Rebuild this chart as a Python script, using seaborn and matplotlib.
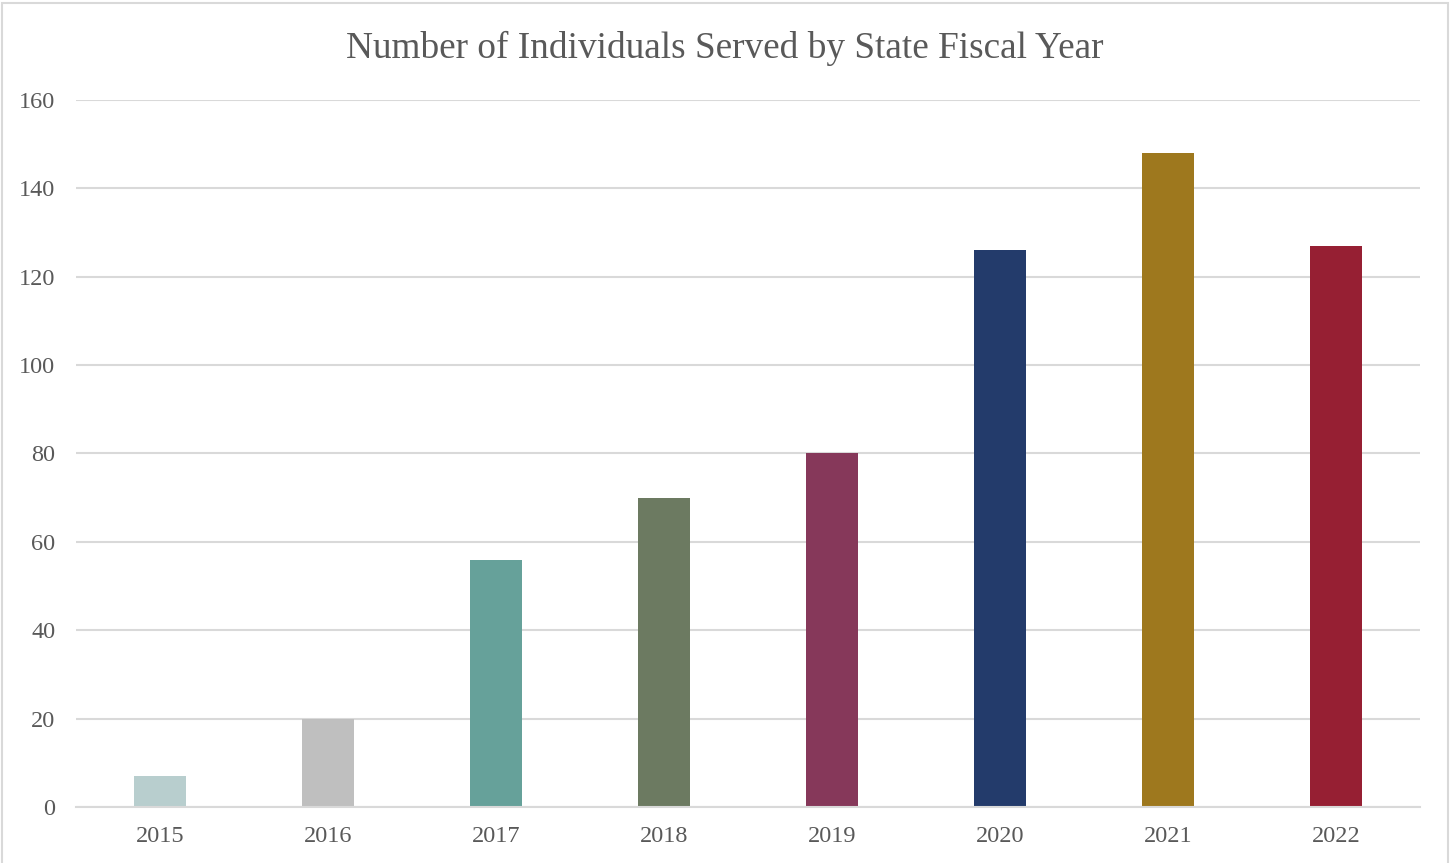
import matplotlib
matplotlib.use("Agg")
import matplotlib.pyplot as plt
import seaborn as sns
import pandas as pd
from matplotlib.patches import Rectangle

years = ["2015", "2016", "2017", "2018", "2019", "2020", "2021", "2022"]
served = [7, 20, 56, 70, 80, 126, 148, 127]
colors = ["#B8CECE", "#BFBFBF", "#66A19A", "#6C7A61", "#86385A", "#233B6B", "#9E781E", "#961F33"]
yticks = [0, 20, 40, 60, 80, 100, 120, 140, 160]
title = "Number of Individuals Served by State Fiscal Year"

sns.set_theme(style="white")
plt.rcParams['font.family'] = ['Liberation Serif', 'DejaVu Serif']

df = pd.DataFrame({"year": years, "served": served})

fig = plt.figure(figsize=(14.5, 8.63), dpi=100)
ax = fig.add_axes([76/1450, 1-807/863, (1420-76)/1450, (807-100)/863])

sns.barplot(data=df, x="year", y="served", hue="year", palette=colors,
            width=0.315, legend=False, ax=ax, saturation=1, linewidth=0)

ax.set_ylim(0, 160)
ax.set_xlim(-0.5, len(years) - 0.5)
ax.set_yticks(yticks)
ax.yaxis.grid(True, color="#D9D9D9", linewidth=1.5)
ax.set_axisbelow(True)
for s in ["top", "right", "left"]:
    ax.spines[s].set_visible(False)
ax.spines["bottom"].set_color("#D9D9D9")
ax.spines["bottom"].set_linewidth(1.5)
ax.tick_params(axis="both", length=0, labelsize=17.5, labelcolor="#595959")
ax.tick_params(axis="y", pad=15)
ax.tick_params(axis="x", pad=13.5)
ax.set_xlabel("")
ax.set_ylabel("")

fig.text(0.5, 1 - 48/863, title, ha="center", va="center", fontsize=26.8, color="#595959")

fig.patches.append(Rectangle((2/1450, -0.01), 1446/1450, 1 - 3/863 + 0.01, transform=fig.transFigure,
                             fill=False, edgecolor="#D9D9D9", linewidth=1.5))

fig.savefig("out.png", dpi=100)
